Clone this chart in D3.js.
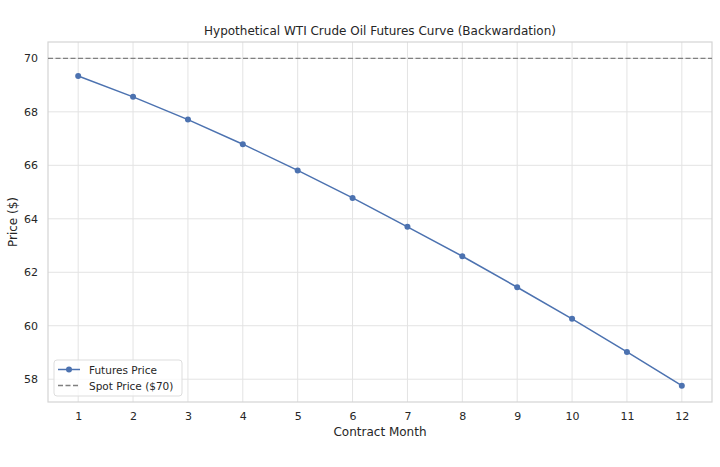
<!DOCTYPE html>
<html>
<head>
<meta charset="utf-8">
<script src="https://cdn.jsdelivr.net/npm/d3@7"></script>
<style>
  body { margin: 0; background: white; }
  text { font-family: 'DejaVu Sans', sans-serif; fill: #262626; }
</style>
</head>
<body>
<div id="chart"></div>
<script>
// data
const months = [1, 2, 3, 4, 5, 6, 7, 8, 9, 10, 11, 12];
const futuresPrices = [69.34, 68.56, 67.71, 66.79, 65.81, 64.78, 63.70, 62.60, 61.44, 60.26, 59.02, 57.76];
const spotPrice = 70;
const yTicks = [58, 60, 62, 64, 66, 68, 70];

const WIDTH = 720, HEIGHT = 467;
const MARGIN = { TOP: 42, BOTTOM: 65, LEFT: 48, RIGHT: 8 };
const innerW = WIDTH - MARGIN.LEFT - MARGIN.RIGHT;
const innerH = HEIGHT - MARGIN.TOP - MARGIN.BOTTOM;

const svg = d3.select('#chart')
  .append('svg')
  .attr('width', WIDTH)
  .attr('height', HEIGHT)
  .style('background', 'white');

const g = svg.append('g')
  .attr('transform', `translate(${MARGIN.LEFT}, ${MARGIN.TOP})`);

// matplotlib-like 5% padding
const xMin = d3.min(months), xMax = d3.max(months);
const xPad = (xMax - xMin) * 0.05;
const xScale = d3.scaleLinear().domain([xMin - xPad, xMax + xPad]).range([0, innerW]);

const yLo = Math.min(d3.min(futuresPrices), spotPrice);
const yHi = Math.max(d3.max(futuresPrices), spotPrice);
const yPad = (yHi - yLo) * 0.05;
const yScale = d3.scaleLinear().domain([yLo - yPad, yHi + yPad]).range([innerH, 0]);

// grid
g.append('g')
  .selectAll('line.vg')
  .data(months)
  .join('line')
  .attr('x1', (d) => xScale(d)).attr('x2', (d) => xScale(d))
  .attr('y1', 0).attr('y2', innerH)
  .attr('stroke', '#e3e3e3').attr('stroke-width', 1);

g.append('g')
  .selectAll('line.hg')
  .data(yTicks)
  .join('line')
  .attr('x1', 0).attr('x2', innerW)
  .attr('y1', (d) => yScale(d)).attr('y2', (d) => yScale(d))
  .attr('stroke', '#e3e3e3').attr('stroke-width', 1);

// frame
g.append('rect')
  .attr('width', innerW).attr('height', innerH)
  .attr('fill', 'none').attr('stroke', '#d4d4d4').attr('stroke-width', 1.2);

// axes (no tick marks, like seaborn whitegrid)
const xAxis = g.append('g')
  .attr('transform', `translate(0, ${innerH})`)
  .call(d3.axisBottom(xScale).tickValues(months).tickSize(0).tickPadding(10).tickFormat(d3.format('d')));
const yAxis = g.append('g')
  .call(d3.axisLeft(yScale).tickValues(yTicks).tickSize(0).tickPadding(10).tickFormat(d3.format('d')));
[xAxis, yAxis].forEach((a) => {
  a.select('.domain').remove();
  a.selectAll('text').style('font-size', '11px').style('font-family', "'DejaVu Sans', sans-serif").attr('fill', '#333');
});

// spot line
g.append('line')
  .attr('x1', 0).attr('x2', innerW)
  .attr('y1', yScale(spotPrice)).attr('y2', yScale(spotPrice))
  .attr('stroke', '#808080').attr('stroke-width', 1.4)
  .attr('stroke-dasharray', '5,2.5');

// futures line
const line = d3.line()
  .x((d, i) => xScale(months[i]))
  .y((d) => yScale(d));

g.append('path')
  .datum(futuresPrices)
  .attr('d', line)
  .attr('fill', 'none')
  .attr('stroke', '#4c72b0')
  .attr('stroke-width', 1.5);

g.selectAll('circle.pt')
  .data(futuresPrices)
  .join('circle')
  .attr('cx', (d, i) => xScale(months[i]))
  .attr('cy', (d) => yScale(d))
  .attr('r', 3)
  .attr('fill', '#4c72b0');

// title and labels
svg.append('text')
  .attr('x', MARGIN.LEFT + innerW / 2)
  .attr('y', 35)
  .attr('text-anchor', 'middle')
  .style('font-size', '12px')
  .text('Hypothetical WTI Crude Oil Futures Curve (Backwardation)');

svg.append('text')
  .attr('x', MARGIN.LEFT + innerW / 2)
  .attr('y', 436)
  .attr('text-anchor', 'middle')
  .style('font-size', '12px')
  .text('Contract Month');

svg.append('text')
  .attr('transform', `translate(17, ${MARGIN.TOP + innerH / 2}) rotate(-90)`)
  .attr('text-anchor', 'middle')
  .style('font-size', '12px')
  .text('Price ($)');

// legend
const legend = g.append('g').attr('transform', `translate(6, ${innerH - 42})`);
legend.append('rect')
  .attr('width', 128).attr('height', 36)
  .attr('rx', 3)
  .attr('fill', 'white').attr('fill-opacity', 0.8)
  .attr('stroke', '#dddddd');
legend.append('line')
  .attr('x1', 4).attr('x2', 26).attr('y1', 9.5).attr('y2', 9.5)
  .attr('stroke', '#4c72b0').attr('stroke-width', 1.5);
legend.append('circle').attr('cx', 15).attr('cy', 9.5).attr('r', 3).attr('fill', '#4c72b0');
legend.append('line')
  .attr('x1', 4).attr('x2', 26).attr('y1', 25.5).attr('y2', 25.5)
  .attr('stroke', '#808080').attr('stroke-width', 1.4).attr('stroke-dasharray', '5,2.5');
legend.append('text').attr('x', 35).attr('y', 13.5).style('font-size', '10.5px').text('Futures Price');
legend.append('text').attr('x', 35).attr('y', 29.5).style('font-size', '10.5px').text('Spot Price ($70)');
</script>
</body>
</html>
